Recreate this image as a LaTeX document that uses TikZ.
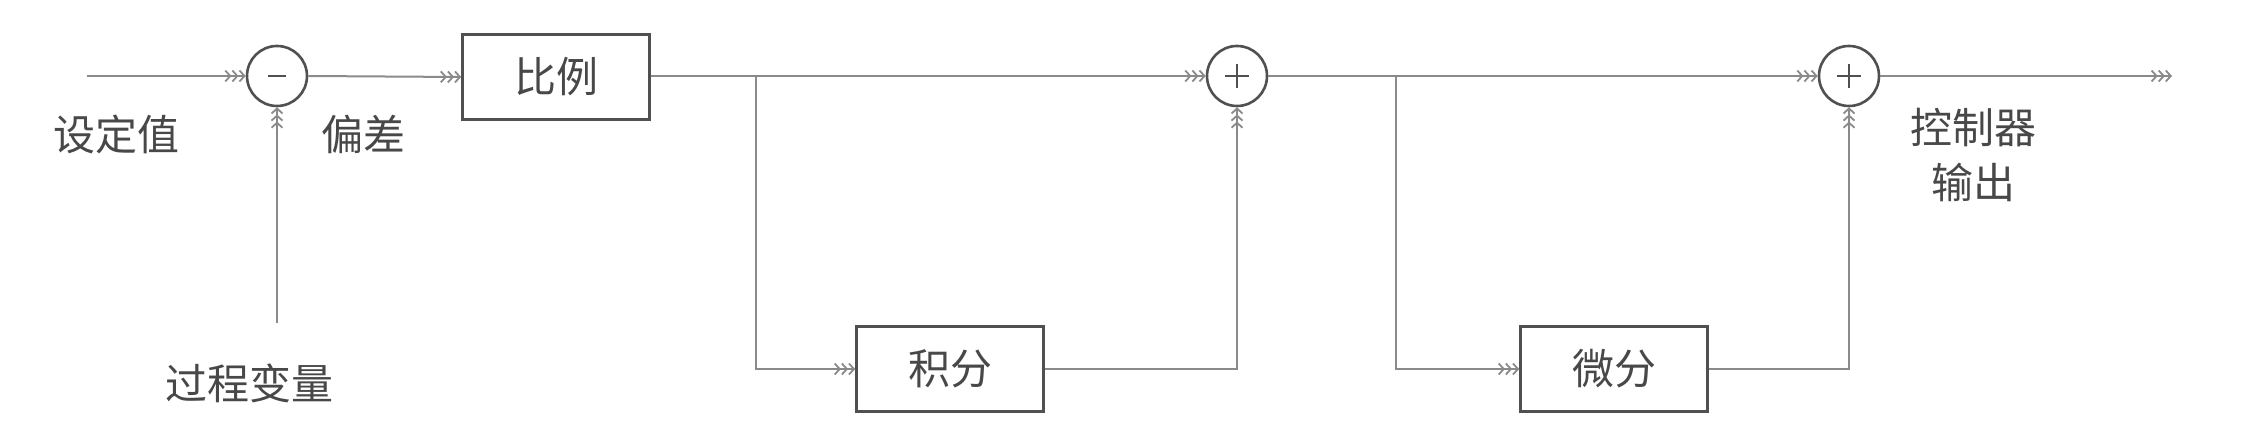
\documentclass[tikz,border=0pt]{standalone}
\usepackage{fontspec}
\newfontfamily\cjk{Noto Sans CJK SC}
\usetikzlibrary{arrows.meta}
\definecolor{inkc}{HTML}{505050}
\definecolor{linec}{HTML}{8A8A8A}
\definecolor{textc}{HTML}{484848}
\tikzset{
  blockbox/.style={draw=inkc, line width=2.6pt, minimum width=187pt, minimum height=85pt, inner sep=0pt, font=\cjk\fontsize{42}{50}\selectfont, text=textc},
  sumnode/.style={circle, draw=inkc, line width=2.6pt, minimum size=60pt, inner sep=0pt},
  signline/.style={draw=inkc, line width=1.8pt},
  lbl/.style={font=\cjk\fontsize{42}{55}\selectfont, text=textc, inner sep=0pt, align=center},
  conn/.style={draw=linec, line width=2pt},
  arr/.style={conn, -{Straight Barb[length=5pt,width=11pt,line width=1.8pt,sep=0pt] Straight Barb[length=5pt,width=11pt,line width=1.8pt,sep=0pt] Straight Barb[length=5pt,width=11pt,line width=1.8pt]}}
}
\begin{document}
\begin{tikzpicture}[x=1pt, y=-1pt]
\useasboundingbox (0,0) rectangle (2268,438);
% summing junctions
\node[sumnode] (minus) at (277,76) {};
\node[sumnode] (plus1) at (1237,76) {};
\node[sumnode] (plus2) at (1849,76) {};
\draw[signline] ([xshift=-9pt]minus.center) -- ([xshift=9pt]minus.center);
\draw[signline] ([xshift=-12pt]plus1.center) -- ([xshift=12pt]plus1.center);
\draw[signline] ([yshift=-12pt]plus1.center) -- ([yshift=12pt]plus1.center);
\draw[signline] ([xshift=-12pt]plus2.center) -- ([xshift=12pt]plus2.center);
\draw[signline] ([yshift=-12pt]plus2.center) -- ([yshift=12pt]plus2.center);
% blocks
\node[blockbox] (P) at (556,77) {比例};
\node[blockbox] (I) at (950,369) {积分};
\node[blockbox] (D) at (1614,369) {微分};
% labels
\node[lbl] (sp) at (116,134) {设定值};
\node[lbl] (err) at (363,134) {偏差};
\node[lbl] (pv) at (249,383) {过程变量};
\node[lbl] (out) at (1973,155) {控制器\\输出};
% free ends
\coordinate (in) at (87,76);
\coordinate (pvend) at (277,323);
\coordinate (b1) at (756,76);
\coordinate (b2) at (1396,76);
\coordinate (outend) at (2172,76);
% connectors
\draw[arr] (in) -- (minus.west);
\draw[arr] (pvend) -- (minus.south);
\draw[arr] (minus.east) -- (P.west);
\draw[arr] (P.east |- minus.east) -- (plus1.west);
\draw[arr] (b1) |- (I.west);
\draw[arr] (I.east) -| (plus1.south);
\draw[arr] (plus1.east) -- (plus2.west);
\draw[arr] (b2) |- (D.west);
\draw[arr] (D.east) -| (plus2.south);
\draw[arr] (plus2.east) -- (outend);
\end{tikzpicture}
\end{document}
